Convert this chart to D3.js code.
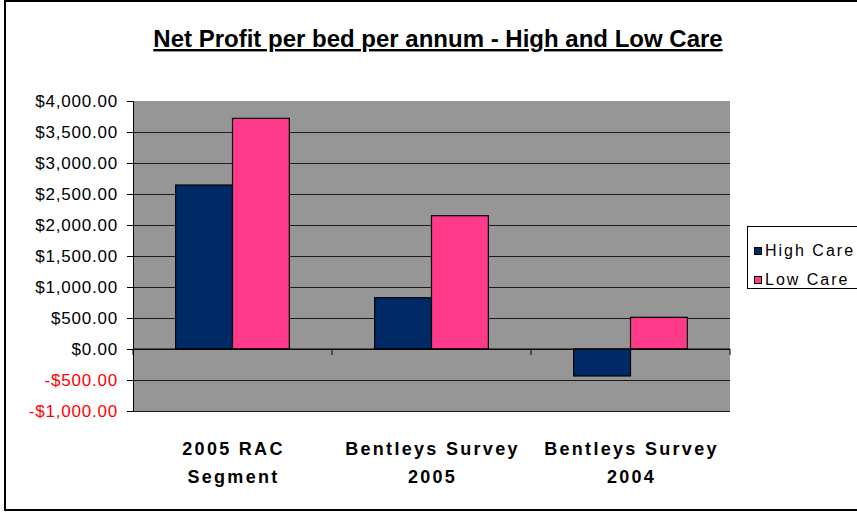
<!DOCTYPE html>
<html>
<head>
<meta charset="utf-8">
<script src="https://cdn.jsdelivr.net/npm/d3@7"></script>
<style>
  body { margin: 0; background: #fff; }
  svg { display: block; font-family: Arial, "Liberation Sans", sans-serif; }
</style>
</head>
<body>
<div id="chart"></div>
<script>
var categories = [["2005 RAC", "Segment"], ["Bentleys Survey", "2005"], ["Bentleys Survey", "2004"]];
var seriesNames = ["High Care", "Low Care"];
var highCare = [2645, 827, -435];
var lowCare = [3720, 2150, 511];
var yTicks = [-1000, -500, 0, 500, 1000, 1500, 2000, 2500, 3000, 3500, 4000];
var seriesColors = ["#002a66", "#ff3a8a"];

var width = 857, height = 512;
var plotLeft = 133, plotRight = 730, plotTop = 101, plotBottom = 411;

var svg = d3.select("#chart").append("svg")
  .attr("width", width)
  .attr("height", height);

// chart border
svg.append("rect")
  .attr("x", 5).attr("y", 1)
  .attr("width", 860).attr("height", 509)
  .attr("fill", "none")
  .attr("stroke", "#000")
  .attr("stroke-width", 2);

// title
svg.append("text")
  .attr("x", 438).attr("y", 47)
  .attr("text-anchor", "middle")
  .attr("font-size", "24px")
  .attr("font-weight", "bold")
  .attr("text-decoration", "underline")
  .text("Net Profit per bed per annum - High and Low Care");

var x = d3.scaleBand()
  .domain(d3.range(categories.length))
  .range([plotLeft, plotRight]);

// excel gap width 150%
var xInner = d3.scaleBand()
  .domain(seriesNames)
  .range([0, x.bandwidth()])
  .paddingOuter(0.75)
  .paddingInner(0);

var y = d3.scaleLinear()
  .domain([-1000, 4000])
  .range([plotBottom, plotTop]);

// plot background
svg.append("rect")
  .attr("x", plotLeft).attr("y", plotTop)
  .attr("width", plotRight - plotLeft).attr("height", plotBottom - plotTop)
  .attr("fill", "#969696");

// gridlines
svg.append("g")
  .selectAll("line")
  .data(yTicks.filter(function (d) { return d !== 4000; }))
  .enter().append("line")
  .attr("x1", plotLeft).attr("x2", plotRight)
  .attr("y1", function (d) { return y(d) + 0.5; })
  .attr("y2", function (d) { return y(d) + 0.5; })
  .attr("stroke", "#1a1a1a")
  .attr("stroke-width", 1);

// y axis
var yAxis = svg.append("g")
  .attr("transform", "translate(" + plotLeft + ",0)")
  .call(d3.axisLeft(y)
    .tickValues(yTicks)
    .tickSize(6)
    .tickPadding(9)
    .tickFormat(function (d) {
      return (d < 0 ? "-$" : "$") + d3.format(",.2f")(Math.abs(d));
    }));
yAxis.select(".domain").attr("stroke", "#000");
yAxis.selectAll(".tick line").attr("stroke", "#000");
yAxis.selectAll(".tick text")
  .attr("font-size", "17px")
  .attr("letter-spacing", "0.8px")
  .attr("font-family", "Arial, 'Liberation Sans', sans-serif")
  .attr("fill", function (d) { return d < 0 ? "#ff0000" : "#000"; });

// bars
var data = [];
categories.forEach(function (c, i) {
  data.push({ cat: i, series: seriesNames[0], value: highCare[i], color: seriesColors[0] });
  data.push({ cat: i, series: seriesNames[1], value: lowCare[i], color: seriesColors[1] });
});

svg.append("g")
  .selectAll("rect")
  .data(data)
  .enter().append("rect")
  .attr("x", function (d) { return x(d.cat) + xInner(d.series); })
  .attr("width", xInner.bandwidth())
  .attr("y", function (d) { return y(Math.max(0, d.value)); })
  .attr("height", function (d) { return Math.abs(y(d.value) - y(0)); })
  .attr("fill", function (d) { return d.color; })
  .attr("stroke", "#000")
  .attr("stroke-width", 1.2);

// x axis at zero
var xAxisG = svg.append("g")
  .attr("transform", "translate(0," + y(0) + ")");
xAxisG.append("line")
  .attr("x1", plotLeft).attr("x2", plotRight)
  .attr("stroke", "#000");
xAxisG.selectAll(".xtick")
  .data(d3.range(categories.length + 1))
  .enter().append("line")
  .attr("class", "xtick")
  .attr("x1", function (i) { return i < categories.length ? x(i) : plotRight; })
  .attr("x2", function (i) { return i < categories.length ? x(i) : plotRight; })
  .attr("y1", 0).attr("y2", 6)
  .attr("stroke", "#000");

// category labels
var labels = svg.append("g")
  .selectAll("text")
  .data(categories)
  .enter().append("text")
  .attr("x", function (d, i) { return x(i) + x.bandwidth() / 2 + 1; })
  .attr("y", 455)
  .attr("text-anchor", "middle")
  .attr("font-size", "18px")
  .attr("letter-spacing", "2.3px")
  .attr("font-weight", "bold");
labels.selectAll("tspan")
  .data(function (d) { return d; })
  .enter().append("tspan")
  .attr("x", function () { return d3.select(this.parentNode).attr("x"); })
  .attr("dy", function (d, j) { return j === 0 ? 0 : 28; })
  .text(function (d) { return d; });

// legend
var legend = svg.append("g");
legend.append("rect")
  .attr("x", 747.5).attr("y", 226.5)
  .attr("width", 120).attr("height", 62)
  .attr("fill", "#fff")
  .attr("stroke", "#000");
var items = legend.selectAll(".item")
  .data(seriesNames)
  .enter().append("g")
  .attr("transform", function (d, i) { return "translate(754.5," + (247.5 + i * 29) + ")"; });
items.append("rect")
  .attr("width", 7).attr("height", 7)
  .attr("fill", function (d, i) { return seriesColors[i]; })
  .attr("stroke", "#000");
items.append("text")
  .attr("x", 10.5).attr("y", 1.5)
  .attr("dy", "0.0em")
  .attr("transform", "translate(0,0)")
  .attr("font-size", "16px")
  .attr("letter-spacing", "2px")
  .attr("y", 8)
  .text(function (d) { return d; });
</script>
</body>
</html>
